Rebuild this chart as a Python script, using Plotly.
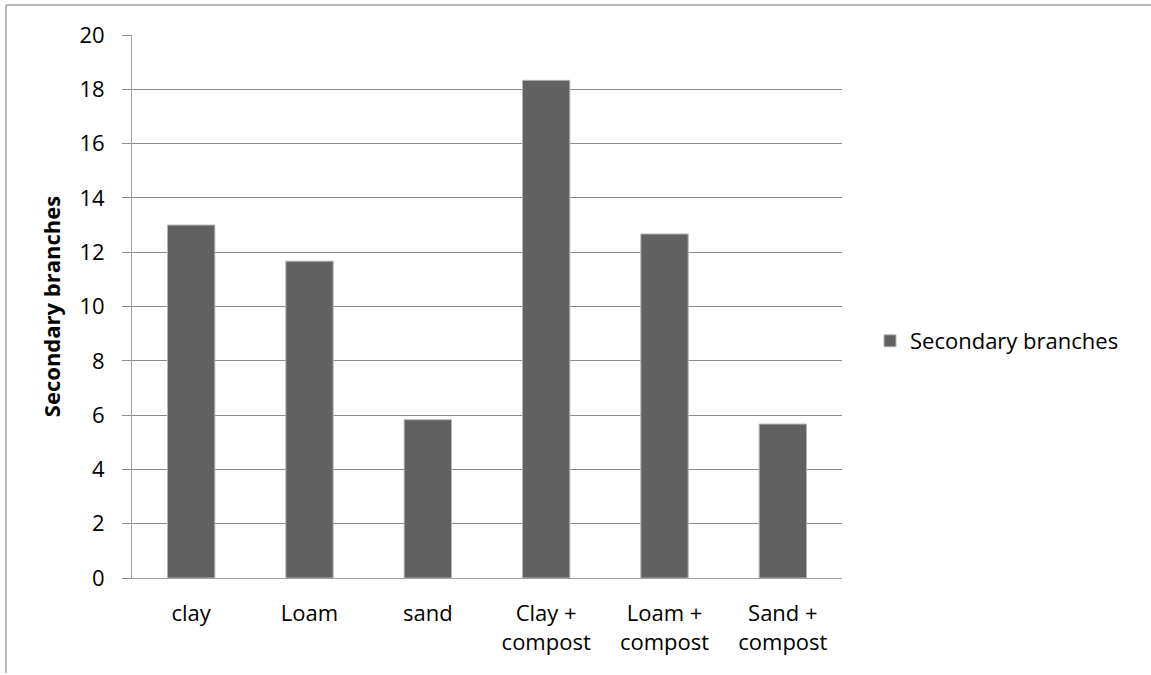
import plotly.graph_objects as go

categories = ["clay", "Loam", "sand", "Clay + compost", "Loam + compost", "Sand + compost"]
tick_labels = ["clay", "Loam", "sand", "Clay +<br>compost", "Loam +<br>compost", "Sand +<br>compost"]
values = [13.0, 11.67, 5.83, 18.33, 12.67, 5.67]
series_name = "Secondary branches"
y_ticks = [0, 2, 4, 6, 8, 10, 12, 14, 16, 18, 20]

W, H = 1151, 675
L, R, T, B = 132, 842, 35, 578

def px(x):
    return (x - L) / (R - L)

def py(y):
    return (B - y) / (B - T)

font = "Open Sans"
fs = 22

fig = go.Figure()
fig.add_trace(go.Bar(
    x=categories, y=values, name=series_name,
    marker=dict(color="#616161", line=dict(color="#b4b4b4", width=1)),
    width=0.4,
))

fig.update_layout(
    width=W, height=H,
    margin=dict(l=L, r=W - R, t=T, b=H - B, pad=0),
    paper_bgcolor="white", plot_bgcolor="white",
    font=dict(family=font, size=fs, color="#000000"),
    showlegend=True,
    legend=dict(x=px(870), y=py(341), xanchor="left", yanchor="middle",
                font=dict(size=fs, family=font), bgcolor="rgba(0,0,0,0)"),
    xaxis=dict(
        tickmode="array", tickvals=categories, ticktext=tick_labels,
        showline=True, linecolor="#a0a0a0", linewidth=1,
        showgrid=False, ticks="", ticklabelstandoff=16,
        tickfont=dict(size=fs, family=font),
    ),
    yaxis=dict(
        range=[0, 20], tickvals=y_ticks, showgrid=True,
        gridcolor="#8c8c8c", gridwidth=1,
        showline=True, linecolor="#a6a6a6", linewidth=1,
        ticks="outside", ticklen=9, tickcolor="#8c8c8c",
        ticklabelstandoff=13, zeroline=False,
        tickfont=dict(size=fs, family=font),
        title=dict(text="<b>Secondary branches</b>", font=dict(size=22, family=font), standoff=12),
    ),
    shapes=[
        dict(type="line", xref="paper", yref="paper", x0=px(6), x1=px(1160), y0=py(5), y1=py(5),
             line=dict(color="#a0a0a0", width=1.5)),
        dict(type="line", xref="paper", yref="paper", x0=px(6), x1=px(6), y0=py(5), y1=py(673),
             line=dict(color="#a0a0a0", width=1.5)),
    ],
)

fig.write_html("out.html")
